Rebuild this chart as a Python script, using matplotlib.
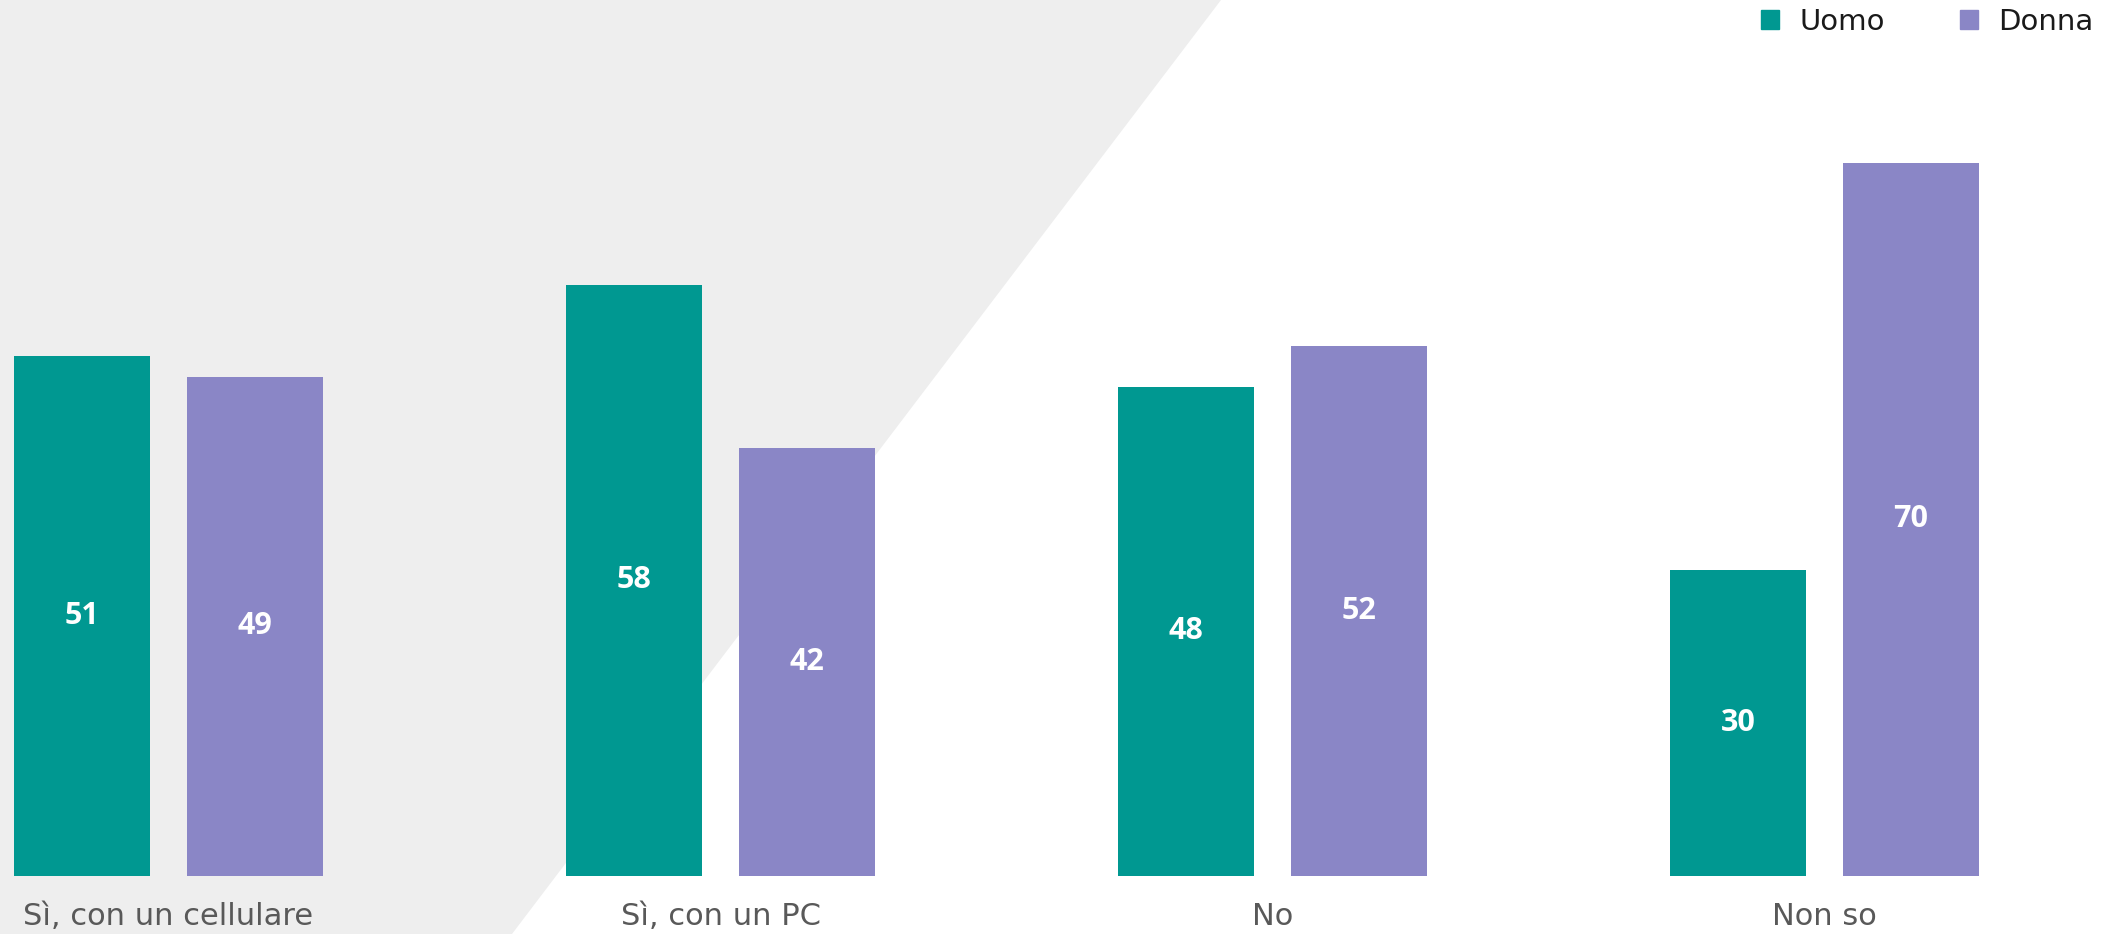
import numpy as np
import matplotlib.pyplot as plt
from matplotlib.patches import Polygon, Patch

categories = ['Sì, con un cellulare', 'Sì, con un PC', 'No', 'Non so']
uomo = [51, 58, 48, 30]
donna = [49, 42, 52, 70]
series_names = ['Uomo', 'Donna']

teal = '#009891'
purple = '#8a86c6'

fig = plt.figure(figsize=(21.24, 9.34), dpi=100)
fig.patch.set_facecolor('white')

# grey slanted background band
bg = Polygon([(0, 0), (512 / 2124, 0), (1221 / 2124, 1), (0, 1)],
             closed=True, transform=fig.transFigure, facecolor='#eeeeee',
             edgecolor='none', zorder=0)
fig.patches.append(bg)

ax = fig.add_axes([0, 58.3 / 934, 1, 875.7 / 934])
ax.set_facecolor('none')
ax.set_zorder(2)

x = np.arange(len(categories))
w = 0.2464
off = 0.1567
b1 = ax.bar(x - off, uomo, w, color=teal, label=series_names[0])
b2 = ax.bar(x + off, donna, w, color=purple, label=series_names[1])

for bars, vals in ((b1, uomo), (b2, donna)):
    for b, v in zip(bars, vals):
        ax.text(b.get_x() + b.get_width() / 2, v / 2, str(v),
                ha='center', va='center', color='white',
                fontsize=22, fontweight='bold', family='Open Sans')

ax.set_xlim(-0.3053, 3.5426)
ax.set_ylim(0, 86.0)
ax.set_xticks(x)
ax.set_xticklabels(categories, fontsize=22, color='#595959', family='DejaVu Sans')
ax.tick_params(axis='x', length=0, pad=19)
ax.set_yticks([])
for s in ax.spines.values():
    s.set_visible(False)

handles = [Patch(color=teal), Patch(color=purple)]
leg = fig.legend(handles, series_names, loc='upper right', ncol=2,
                 bbox_to_anchor=(0.998, 1.02), frameon=False,
                 prop={'family': 'DejaVu Sans', 'size': 21},
                 handlelength=0.6, handleheight=0.6, handletextpad=0.7,
                 columnspacing=2.6)
for t in leg.get_texts():
    t.set_color('#1a1a1a')

plt.savefig('out.png', dpi=100)
